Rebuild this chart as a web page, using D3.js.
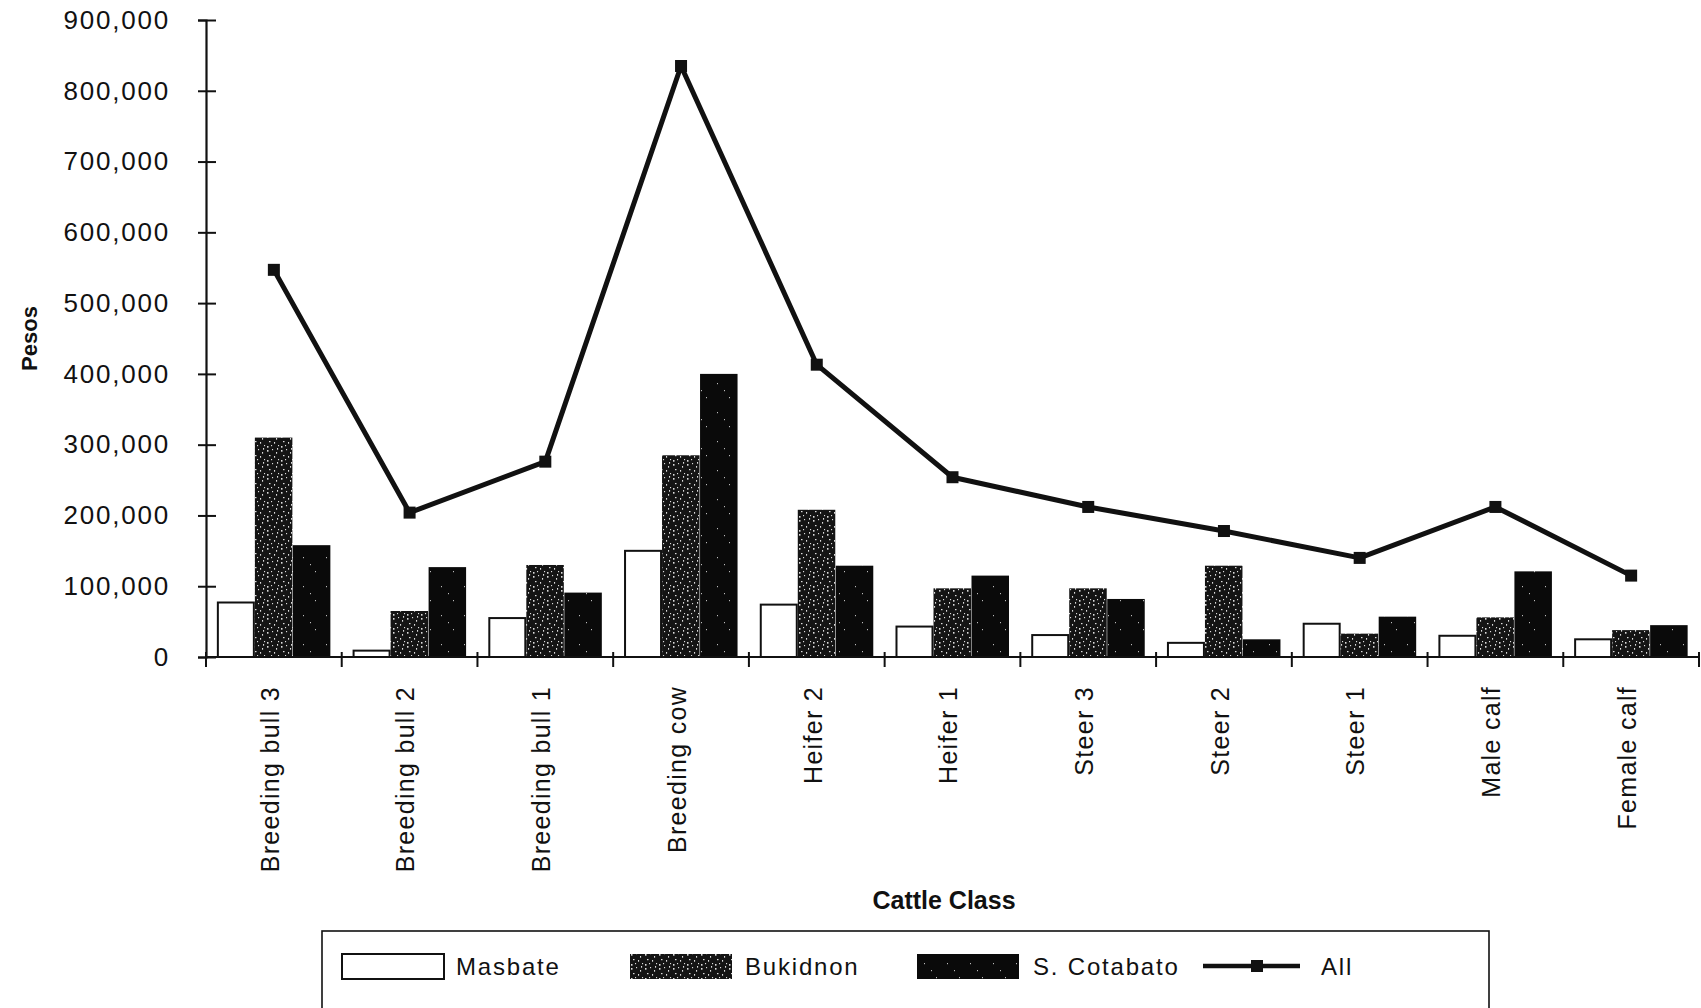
<!DOCTYPE html>
<html>
<head>
<meta charset="utf-8">
<script src="https://cdn.jsdelivr.net/npm/d3@7/dist/d3.min.js"></script>
<style>
  html, body { margin: 0; padding: 0; background: #fff; }
  svg { display: block; }
  text { font-family: "Liberation Sans", Arial, Helvetica, sans-serif; fill: #111; }
</style>
</head>
<body>
<svg id="chart" width="1701" height="1008"></svg>
<script>
const categories = ["Breeding bull 3", "Breeding bull 2", "Breeding bull 1", "Breeding cow",
  "Heifer 2", "Heifer 1", "Steer 3", "Steer 2", "Steer 1", "Male calf", "Female calf"];
const seriesNames = ["Masbate", "Bukidnon", "S. Cotabato"];
const masbate   = [77000, 9000, 55000, 150000, 74000, 43000, 31000, 20000, 47000, 30000, 25000];
const bukidnon  = [310000, 65000, 130000, 285000, 208000, 97000, 97000, 129000, 33000, 56000, 38000];
const sCotabato = [158000, 127000, 91000, 400000, 129000, 115000, 82000, 25000, 57000, 121000, 45000];
const allValues = [547000, 204000, 276000, 835000, 413000, 254000, 212000, 178000, 140000, 212000, 115000];
const yTicks = [0, 100000, 200000, 300000, 400000, 500000, 600000, 700000, 800000, 900000];
const lineName = "All";
const xTitle = "Cattle Class";
const yTitle = "Pesos";

const seriesValues = [masbate, bukidnon, sCotabato];
const svg = d3.select("#chart");

// patterns
const defs = svg.append("defs");
const pat = defs.append("pattern").attr("id", "stipple").attr("patternUnits", "userSpaceOnUse")
  .attr("width", 14).attr("height", 14);
pat.append("rect").attr("width", 14).attr("height", 14).attr("fill", "#141414");
const dots = [[1,2],[6,1],[10,4],[3,7],[8,8],[12,11],[1,12],[5,11],[11,0]];
dots.forEach(([dx, dy], i) => {
  pat.append("rect").attr("x", dx).attr("y", dy).attr("width", i % 3 === 0 ? 1.5 : 1.1)
    .attr("height", i % 2 === 0 ? 1.7 : 1.2).attr("fill", "#dcdcdc");
});
const pat2 = defs.append("pattern").attr("id", "darkspeck").attr("patternUnits", "userSpaceOnUse")
  .attr("width", 23).attr("height", 29);
pat2.append("rect").attr("width", 23).attr("height", 29).attr("fill", "#0a0a0a");
[[4,6],[16,20],[11,13]].forEach(([dx, dy]) => {
  pat2.append("rect").attr("x", dx).attr("y", dy).attr("width", 1).attr("height", 1.2).attr("fill", "#bbb");
});

const fills = ["#ffffff", "url(#stipple)", "url(#darkspeck)"];

const x = d3.scaleBand().domain(categories).range([206, 1699]).padding(0);
const bw = x.bandwidth();
const xs = d3.scaleBand().domain(seriesNames).range([0.08 * bw, 0.92 * bw]).padding(0);
const y = d3.scaleLinear().domain([0, 900000]).range([657, 20]);

// bars
seriesNames.forEach((s, si) => {
  svg.append("g").selectAll("rect").data(categories).join("rect")
    .attr("x", c => x(c) + xs(s) + (si === 0 ? 1 : 0))
    .attr("y", (c, i) => y(seriesValues[si][i]))
    .attr("width", xs.bandwidth() - (si === 0 ? 2 : 0.5))
    .attr("height", (c, i) => y(0) - y(seriesValues[si][i]))
    .attr("fill", fills[si])
    .attr("stroke", si === 0 ? "#111" : "none")
    .attr("stroke-width", 2);
});

// y axis
const yAxis = svg.append("g").attr("transform", `translate(206,0)`)
  .call(d3.axisLeft(y).tickValues(yTicks).tickFormat(d3.format(",")).tickSize(8).tickPadding(28));
yAxis.select(".domain").attr("stroke", "#111").attr("stroke-width", 2.2);
yAxis.selectAll(".tick line").attr("x1", 10).attr("stroke", "#111").attr("stroke-width", 2);
yAxis.selectAll(".tick text").attr("font-size", 26).style("letter-spacing", "1.8px")
  .attr("font-family", "'Liberation Sans', Arial, sans-serif").attr("fill", "#111");

// x axis
svg.append("line").attr("x1", 206).attr("x2", 1699).attr("y1", y(0)).attr("y2", y(0))
  .attr("stroke", "#111").attr("stroke-width", 2.2);
const bounds = categories.map(c => x(c)).concat([x.range()[1]]);
svg.append("g").selectAll("line").data(bounds).join("line")
  .attr("x1", d => d).attr("x2", d => d).attr("y1", y(0) - 5).attr("y2", y(0) + 10)
  .attr("stroke", "#111").attr("stroke-width", 2);
svg.append("g").selectAll("text").data(categories).join("text")
  .attr("transform", c => `translate(${x(c) + bw / 2 - 4},686) rotate(-90)`)
  .attr("text-anchor", "end").attr("dy", "0.35em")
  .attr("font-size", 25).style("letter-spacing", "1.3px")
  .text(c => c);

// line
const line = d3.line().x((d, i) => x(categories[i]) + bw / 2).y(d => y(d));
svg.append("path").datum(allValues).attr("d", line).attr("fill", "none")
  .attr("stroke", "#111").attr("stroke-width", 5).attr("stroke-linejoin", "round");
svg.append("g").selectAll("rect").data(allValues).join("rect")
  .attr("x", (d, i) => x(categories[i]) + bw / 2 - 6).attr("y", d => y(d) - 6)
  .attr("width", 12).attr("height", 12).attr("fill", "#111");

// titles
svg.append("text").attr("transform", `translate(29,${(y(0) + y(900000)) / 2}) rotate(-90)`)
  .attr("text-anchor", "middle").attr("dy", "0.35em").attr("font-weight", "bold")
  .attr("font-size", 22).text(yTitle);
svg.append("text").attr("x", 944).attr("y", 900).attr("text-anchor", "middle").attr("dy", "0.35em")
  .attr("font-weight", "bold").attr("font-size", 25).text(xTitle);

// legend
const lg = svg.append("g");
lg.append("rect").attr("x", 322).attr("y", 931).attr("width", 1167).attr("height", 100)
  .attr("fill", "none").attr("stroke", "#111").attr("stroke-width", 1.6);
const swX = [342, 630, 917];
const txX = [456, 745, 1033];
seriesNames.forEach((s, si) => {
  lg.append("rect").attr("x", swX[si]).attr("y", 954).attr("width", 102).attr("height", 25)
    .attr("fill", fills[si]).attr("stroke", si === 0 ? "#111" : "none").attr("stroke-width", 2);
  lg.append("text").attr("x", txX[si]).attr("y", 967).attr("dy", "0.35em")
    .attr("font-size", 24).style("letter-spacing", "1.8px").text(s);
});
lg.append("line").attr("x1", 1203).attr("x2", 1300).attr("y1", 966).attr("y2", 966)
  .attr("stroke", "#111").attr("stroke-width", 4.5);
lg.append("rect").attr("x", 1251).attr("y", 960).attr("width", 12).attr("height", 12).attr("fill", "#111");
lg.append("text").attr("x", 1321).attr("y", 967).attr("dy", "0.35em")
  .attr("font-size", 24).style("letter-spacing", "1.8px").text(lineName);
</script>
</body>
</html>
